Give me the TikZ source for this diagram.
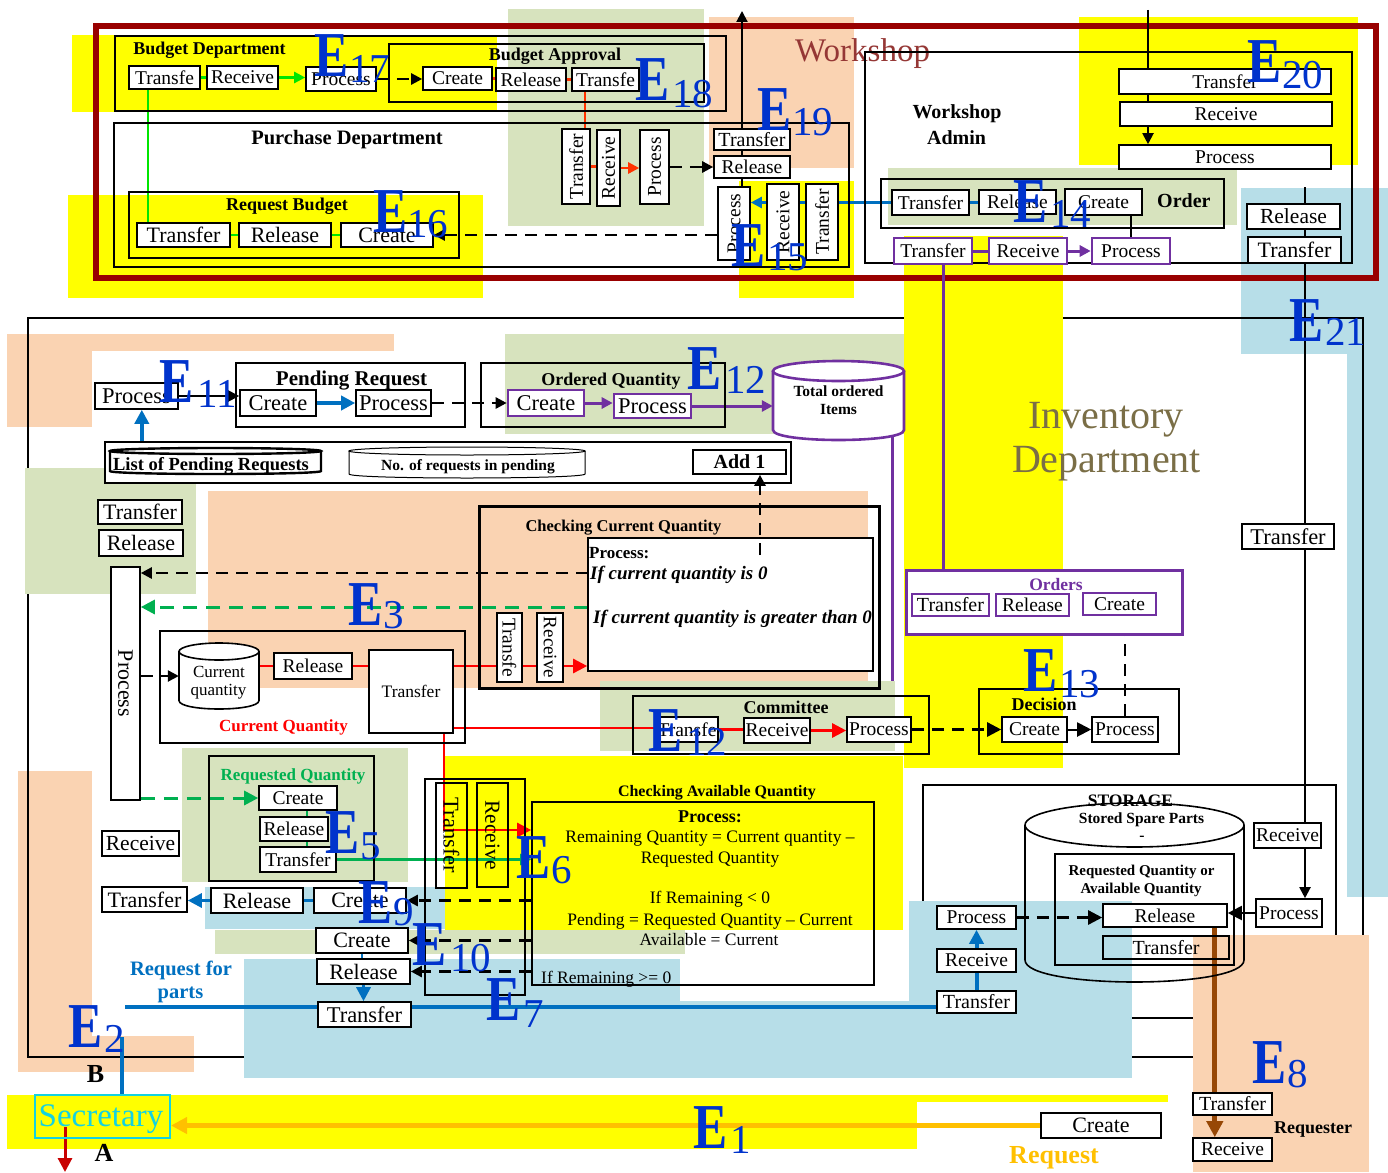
\documentclass[tikz,border=0pt]{standalone}
\usepackage{graphicx}
\usepackage{fontspec}
\setmainfont{Liberation Serif}
\usetikzlibrary{arrows.meta,calc}
\newcommand\fsz[1]{\fontsize{#1}{#1}\selectfont}
\definecolor{yel}{HTML}{FFFF00}
\definecolor{grn}{HTML}{D7E3BE}
\definecolor{pch}{HTML}{FAD3B2}
\definecolor{blu}{HTML}{B7DEE8}
\definecolor{frameRed}{HTML}{990000}
\definecolor{wsred}{HTML}{953735}
\definecolor{eblue}{HTML}{0033CC}
\definecolor{bblue}{HTML}{0070C0}
\definecolor{egreen}{HTML}{00B050}
\definecolor{bgreen}{HTML}{00E600}
\definecolor{ored}{HTML}{FF3300}
\definecolor{purp}{HTML}{7030A0}
\definecolor{lblue}{HTML}{6FA8DC}
\definecolor{orng}{HTML}{FFC000}
\definecolor{brwn}{HTML}{974806}
\definecolor{cyanS}{HTML}{14D2E1}
\definecolor{invOlive}{HTML}{7A6E46}
\definecolor{darkRed}{HTML}{C80000}
\pgfdeclarelayer{back}
\pgfdeclarelayer{base}
\pgfdeclarelayer{patch}
\pgfdeclarelayer{edge}
\pgfsetlayers{back,base,patch,edge,main}
% box by its corners: [options]{name}{x1}{y1}{x2}{y2}{text}
\newcommand\bxn[7][]{\node[inner sep=0pt,#1,minimum width={#5-#3},minimum height={#6-#4}] (#2) at ({(#3+#5)/2},{(#4+#6)/2}) {#7};}
% text placed on its baseline
\newcommand\lbl[4][]{\node[inner sep=0pt,anchor=base,#1] (#2) at (#3) {#4};}
% big E with its number
\newcommand\elab[6]{%
  \node[inner sep=0pt,anchor=base west,text=eblue,font=\bfseries\fsz{64}] (#1) at (#2,#3) {\scalebox{0.8}[1]{E}};
  \node[inner sep=0pt,anchor=base west,text=eblue,font=\fsz{41}] (#1n) at (#4,#5) {#6};}
% upright cylinder: {style}{x1}{y1}{x2}{y2}{ry}
\newcommand\cylsh[6]{%
  \pgfmathsetmacro\cylrx{(#4-#2)/2}%
  \pgfmathsetmacro\cylcx{(#2+#4)/2}%
  \draw[#1] (#2,{#3+#6}) -- (#2,{#5-#6}) .. controls (#2,{#5+0.333*#6}) and (#4,{#5+0.333*#6}) .. (#4,{#5-#6}) -- (#4,{#3+#6});
  \draw[#1] (\cylcx,{#3+#6}) ellipse [x radius=\cylrx pt, y radius=#6 pt];}
\begin{document}
\begin{tikzpicture}[x=1pt,y=-1pt,
  bx/.style={draw=black,line width=1.6pt,fill=white,font=\fsz{19.5}},
  pbx/.style={bx,draw=purp,line width=2.6pt},
  ctr/.style={draw=black,line width=1.6pt},
  arr/.style={-{Triangle[length=#1,width=#1]}},
  arr/.default=11pt,
  kline/.style={draw=black,line width=2pt},
  kdash/.style={draw=black,line width=2.5pt,dash pattern=on 12pt off 8pt},
  gline/.style={draw=bgreen,line width=2.5pt},
  oline/.style={draw=ored,line width=2.5pt},
  bline/.style={draw=bblue,line width=2.5pt},
  bthick/.style={draw=bblue,line width=4pt},
  pline/.style={draw=purp,line width=3pt},
  rline/.style={draw=red,line width=2.5pt},
  gdash/.style={draw=egreen,line width=3pt,dash pattern=on 14pt off 9pt},
  gthin/.style={draw=egreen,line width=1.5pt},
  gsolid/.style={draw=egreen,line width=2.5pt},
  lbline/.style={draw=lblue,line width=3pt},
  rdark/.style={draw=darkRed,line width=3pt},
  oline2/.style={draw=orng,line width=5pt},
  brline/.style={draw=brwn,line width=5pt}]
\useasboundingbox (0,0) rectangle (1388,1172);

\begin{pgfonlayer}{back}
  \fill[white] (0,0) rectangle (1388,1172);
  \fill[pch] (7,334) rectangle (394,351);
  \fill[pch] (7,334) rectangle (92,427);
  \fill[pch] (18,771) rectangle (92,1072);
  \fill[pch] (18,1036) rectangle (194,1072);
  \fill[blu] (1241,188) rectangle (1388,354);
  \fill[blu] (1347,188) rectangle (1388,897);
\end{pgfonlayer}

\begin{pgfonlayer}{base}
  \bxn[ctr]{inv}{28}{318}{1363}{1057}{}
  \bxn[ctr]{stor}{923}{785}{1336}{1018}{}
\end{pgfonlayer}

\begin{pgfonlayer}{patch}
  \fill[yel] (72,35) rectangle (497,112);
  \fill[yel] (68,195) rectangle (483,298);
  \fill[grn] (508,9) rectangle (704,226);
  \fill[pch] (709,17) rectangle (854,168);
  \fill[yel] (739,181) rectangle (854,298);
  \fill[yel] (1079,17) rectangle (1358,165);
  \fill[grn] (888,168) rectangle (1237,225);
  \fill[yel] (904,236) rectangle (1063,768);
  \fill[grn] (25,468) rectangle (196,594);
  \fill[grn] (505,334) rectangle (904,434);
  \fill[pch] (208,491) rectangle (868,688);
  \fill[grn] (600,681) rectangle (895,751);
  \fill[yel] (445,756) rectangle (903,930);
  \fill[grn] (182,748) rectangle (408,882);
  \fill[blu] (205,887) rectangle (445,929);
  \fill[grn] (215,930) rectangle (685,954);
  \fill[blu] (244,959) rectangle (680,1078);
  \fill[blu] (680,1001) rectangle (909,1078);
  \fill[blu] (909,901) rectangle (1132,1078);
  \fill[pch] (1193,935) rectangle (1369,1172);
  \fill[yel] (7,1095) rectangle (917,1149);
  \fill[yel] (7,1095) rectangle (1168,1102);
  \bxn[draw=frameRed,line width=6pt]{wsframe}{95.5}{26}{1376}{278}{}
\end{pgfonlayer}

% ---------- Budget and purchase departments ----------
\bxn[ctr]{bdep}{115}{36}{726}{111}{}
\lbl[font=\bfseries\fsz{18}]{bdepL}{209.5,55}{Budget Department}
\bxn[bx]{bdT}{129}{66}{200}{89}{Transfe}
\bxn[bx]{bdR}{207}{66}{278}{89}{Receive}
\bxn[bx]{bdP}{306}{67}{376}{91}{Process}
\bxn[ctr]{bap}{389}{44}{704}{102}{}
\lbl[font=\bfseries\fsz{18}]{bapL}{555,60}{Budget Approval}
\bxn[bx]{baC}{423}{67}{492}{90}{Create}
\bxn[bx]{baR}{496}{68}{566}{91}{Release}
\bxn[bx]{baT}{572}{68}{639}{91}{Transfe}
\bxn[ctr]{pur}{114}{123}{849}{267}{}
\lbl[font=\bfseries\fsz{20.5}]{purL}{347,144}{Purchase Department}
\bxn[ctr]{rqb}{129}{192}{459}{258}{}
\lbl[font=\bfseries\fsz{18}]{rqbL}{287,210}{Request Budget}
\bxn[bx,font=\fsz{22}]{rbT}{137}{223}{230}{247}{Transfer}
\bxn[bx,font=\fsz{22}]{rbR}{239}{223}{331}{247}{Release}
\bxn[bx,font=\fsz{22}]{rbC}{341}{223}{433}{247}{Create}
\bxn[bx]{vT}{562}{129}{590}{204}{\rotatebox{90}{Transfer}}
\bxn[bx]{vR}{597}{130}{620}{206}{\rotatebox{90}{Receive}}
\bxn[bx]{vP}{640}{130}{669}{204}{\rotatebox{90}{Process}}

% ---------- Workshop ----------
\lbl[anchor=base west,text=wsred,font=\fsz{33}]{wsL}{795,62}{Workshop}
\bxn[bx,font=\fsz{20}]{wT}{714}{129}{790}{150}{Transfer}
\bxn[bx]{wR}{714}{156}{790}{178}{Release}
\bxn[bx]{wvP}{718}{187}{750}{260}{\rotatebox{90}{Process}}
\bxn[bx]{wvR}{767}{184}{799}{260}{\rotatebox{90}{Receive}}
\bxn[bx]{wvT}{806}{184}{838}{260}{\rotatebox{90}{Transfer}}
\bxn[ctr]{wadm}{865}{52}{1352}{263}{}
\lbl[font=\bfseries\fsz{20}]{wadmL1}{957,118}{Workshop}
\lbl[font=\bfseries\fsz{20}]{wadmL2}{956.5,144}{Admin}
\bxn[ctr]{ord}{881}{179}{1224}{228}{}
\bxn[bx]{oT}{892}{190}{969}{215}{Transfer}
\bxn[bx]{oR}{979}{190}{1056}{214}{Release}
\bxn[bx]{oC}{1065}{189}{1142}{215}{Create}
\lbl[anchor=base west,font=\bfseries\fsz{20}]{ordL}{1157,207}{Order}
\bxn[pbx]{pT}{894}{238}{972}{264}{Transfer}
\bxn[pbx]{pR}{989}{238}{1067}{264}{Receive}
\bxn[pbx]{pP}{1092}{238}{1170}{264}{Process}
\bxn[bx]{trT}{1119}{69}{1331}{94}{Transfer}
\bxn[bx]{trR}{1120}{102}{1332}{126}{Receive}
\bxn[bx]{trP}{1119}{145}{1331}{169}{Process}
\bxn[bx,font=\fsz{21.5}]{rR}{1247}{204}{1340}{229}{Release}
\bxn[bx,font=\fsz{22}]{rT}{1248}{237}{1341}{263}{Transfer}

% ---------- Inventory department ----------
\lbl[text=invOlive,font=\fsz{40}]{invL1}{1106,428}{Inventory}
\lbl[text=invOlive,font=\fsz{40}]{invL2}{1106.5,472}{Department}
\bxn[bx,font=\fsz{22.5}]{peP}{95}{383}{178}{409}{Process}
\bxn[ctr]{pend}{236}{363}{465}{427}{}
\lbl[font=\bfseries\fsz{21}]{pendL}{351.5,385}{Pending Request}
\bxn[bx,font=\fsz{22.5}]{prC}{240}{390}{316}{416}{Create}
\bxn[bx,font=\fsz{22.5}]{prP}{356}{390}{431}{416}{Process}
\bxn[ctr]{oq}{481}{363}{725}{427}{}
\lbl[font=\bfseries\fsz{18}]{oqL}{611,385}{Ordered Quantity}
\bxn[pbx,font=\fsz{22.5}]{oqC}{508}{390}{584}{416}{Create}
\bxn[pbx,font=\fsz{22.5}]{oqP}{614}{394}{691}{418}{Process}
\cylsh{draw=purp,line width=2.6pt,fill=white}{773}{361}{904}{440}{10}
\bxn[font=\bfseries\fontsize{15.5}{18}\selectfont,align=center]{tot}{773}{361}{904}{440}{Total ordered\\Items}
\bxn[ctr,fill=white]{lcont}{105}{442}{791}{483}{}
\cylsh{draw,line width=2.4pt,fill=white}{110}{448}{321}{474}{3}
\bxn{lst}{110}{448}{321}{474}{}
\lbl[font=\bfseries\fsz{18.5}]{lstL}{211,470}{List of Pending Requests}
\cylsh{draw,line width=1pt,fill=white}{349}{447}{585}{478}{4}
\bxn{nor}{349}{447}{585}{478}{}
\lbl[font=\bfseries\fsz{15.5}]{norL}{468,470}{No. of requests in pending}
\bxn[bx,font=\bfseries\fsz{20}]{add}{693}{450}{786}{474}{Add 1}
\bxn[bx,font=\fsz{22}]{lT}{98}{500}{182}{524}{Transfer}
\bxn[bx,font=\fsz{22}]{lR}{99}{530}{183}{556}{Release}
\bxn[bx,font=\fsz{22}]{lvP}{111}{567}{140}{800}{\rotatebox{-90}{Process}}

\bxn[ctr,line width=3pt]{ccq}{479}{506}{879}{688}{}
\lbl[font=\bfseries\fsz{16.5}]{ccqL}{623.5,531}{Checking Current Quantity}
\bxn[bx]{ccIn}{588}{538}{873}{671}{}
\lbl[anchor=base west,font=\bfseries\fsz{17}]{ccP}{589,558}{Process:}
\lbl[anchor=base west,font=\bfseries\itshape\fsz{19}]{ccI1}{590,579}{If current quantity is 0}
\lbl[anchor=base west,font=\bfseries\itshape\fsz{19}]{ccI2}{593,623}{If current quantity is greater than 0}
\bxn[bx]{ccT}{497}{613}{522}{682}{\rotatebox{-90}{Transfe}}
\bxn[bx,font=\fsz{19}]{ccR}{537}{613}{563}{682}{\rotatebox{-90}{Receive}}
\coordinate (chkA) at (760,555);
\draw[kdash,arr] (chkA) -- (chkA |- add.south);

\bxn[ctr]{cq}{160}{631}{465}{743}{}
\cylsh{draw,line width=1.6pt,fill=white}{179}{643}{259}{709}{8.5}
\bxn{cur}{179}{643}{259}{709}{}
\lbl[font=\fsz{17}]{curL1}{219,677}{Current}
\lbl[font=\fsz{17}]{curL2}{218.5,695}{quantity}
\bxn[bx]{cqR}{274}{653}{352}{679}{Release}
\bxn[bx,font=\fsz{17.5}]{cqT}{369}{650}{453}{733}{Transfer}
\lbl[text=red,font=\bfseries\fsz{17}]{cqL}{283.5,731}{Current Quantity}

\bxn[ctr]{cmt}{633}{696}{929}{754}{}
\lbl[font=\bfseries\fsz{18}]{cmtL}{786,713}{Committee}
\bxn[bx]{cmT}{656}{717}{718}{742}{Transfe}
\bxn[bx]{cmR}{744}{718}{810}{743}{Receive}
\bxn[bx]{cmP}{847}{717}{911}{742}{Process}
\bxn[ctr]{dec}{979}{689}{1179}{754}{}
\lbl[font=\bfseries\fsz{18}]{decL}{1044,710}{Decision}
\bxn[bx]{dC}{1002}{717}{1067}{742}{Create}
\bxn[bx]{dP}{1092}{717}{1158}{742}{Process}
\bxn[bx,draw=purp,line width=3pt]{ords}{906}{570}{1182}{634}{}
\lbl[text=purp,font=\bfseries\fsz{17.5}]{ordsL}{1056,590}{Orders}
\bxn[pbx,font=\fsz{20}]{orT}{912}{594}{989}{616}{Transfer}
\bxn[pbx]{orR}{996}{594}{1069}{616}{Release}
\bxn[pbx]{orC}{1083}{593}{1156}{615}{Create}
\bxn[bx,font=\fsz{22.5}]{invT}{1242}{524}{1334}{549}{Transfer}

\bxn[ctr]{rq}{209}{756}{374}{881}{}
\lbl[text=egreen,font=\bfseries\fsz{17}]{rqL}{293,780}{Requested Quantity}
\bxn[bx]{rqC}{259}{786}{337}{810}{Create}
\bxn[bx]{rqR}{260}{817}{328}{841}{Release}
\bxn[bx]{rqT}{260}{847}{336}{872}{Transfer}
\bxn[bx,font=\fsz{21.5}]{recv}{102}{831}{179}{856}{Receive}

\bxn[ctr]{caq}{425}{779}{525}{995}{}
\bxn[ctr,font=\fsz{22.5}]{caT}{436}{783}{467}{888}{\rotatebox{-90}{Transfer}}
\bxn[ctr,font=\fsz{21.5}]{caR}{477}{783}{508}{887}{\rotatebox{-90}{Receive}}
\lbl[font=\bfseries\fsz{16}]{caqL}{717,796}{Checking Available Quantity}
\bxn[ctr]{caP}{532}{802}{874}{985}{}
\lbl[font=\bfseries\fsz{18}]{caP0}{710,822}{Process:}
\lbl[font=\fsz{17.5}]{caP1}{710,842}{Remaining Quantity = Current quantity –}
\lbl[font=\fsz{17.5}]{caP2}{710,863}{Requested Quantity}
\lbl[font=\fsz{17.5}]{caP3}{710,903}{If Remaining < 0}
\lbl[font=\fsz{17.5}]{caP4}{710,925}{Pending = Requested Quantity – Current}
\lbl[font=\fsz{17.5}]{caP5}{709,945}{Available = Current}
\lbl[anchor=base west,font=\fsz{17.5}]{caP6}{541,983}{If Remaining >= 0}

\bxn[bx,font=\fsz{22}]{e9T}{102}{887}{187}{912}{Transfer}
\bxn[bx,font=\fsz{22}]{e9R}{211}{888}{303}{913}{Release}
\bxn[bx,font=\fsz{22}]{e9C}{314}{888}{406}{913}{Create}
\bxn[bx,font=\fsz{22}]{e10C}{316}{928}{408}{953}{Create}
\bxn[bx,font=\fsz{22}]{e10R}{317}{959}{410}{984}{Release}
\bxn[bx,font=\fsz{22.5}]{e7T}{318}{1002}{411}{1027}{Transfer}
\lbl[text=bblue,font=\bfseries\fsz{20.5}]{rfpL1}{181,975}{Request for}
\lbl[text=bblue,font=\bfseries\fsz{20.5}]{rfpL2}{180.5,998}{parts}
\bxn[draw=cyanS,line width=2pt]{sec}{35}{1095}{170}{1138}{}
\lbl[text=cyanS,font=\fsz{33}]{secL}{101,1126}{Secretary}
\lbl[font=\bfseries\fsz{26}]{bL}{95.5,1082}{B}
\lbl[font=\bfseries\fsz{26}]{aL}{104,1161}{A}

% ---------- Storage and requester ----------
\lbl[font=\bfseries\fsz{17.5}]{storL}{1130.5,806}{STORAGE}
\cylsh{draw,line width=1.6pt}{1025}{803}{1244}{982}{22}
\bxn{scyl}{1025}{803}{1244}{982}{}
\lbl[font=\bfseries\fsz{15.5}]{scylL}{1141.5,823}{Stored Spare Parts}
\lbl[font=\bfseries\fsz{15.5}]{scylD}{1142,840}{-}
\bxn[ctr]{sIn}{1055}{854}{1234}{965}{}
\lbl[font=\bfseries\fsz{15}]{sInL1}{1141.5,875}{Requested Quantity or}
\lbl[font=\bfseries\fsz{15}]{sInL2}{1141,893}{Available Quantity}
\bxn[bx]{sRel}{1103}{904}{1227}{927}{Release}
\bxn[ctr,font=\fsz{20}]{sTr}{1103}{936}{1229}{959}{Transfer}
\bxn[bx]{stP}{937}{906}{1016}{929}{Process}
\bxn[bx]{stR}{937}{949}{1016}{972}{Receive}
\bxn[bx,font=\fsz{20}]{stT}{937}{991}{1016}{1013}{Transfer}
\bxn[bx]{sRcv}{1254}{823}{1321}{848}{Receive}
\bxn[bx]{sPrc}{1256}{899}{1322}{927}{Process}
\bxn[bx,font=\fsz{20}]{reqT}{1193}{1093}{1272}{1115}{Transfer}
\bxn[bx]{reqR}{1193}{1138}{1272}{1161}{Receive}
\lbl[anchor=base west,font=\bfseries\fsz{18}]{reqL}{1274,1133}{Requester}
\bxn[bx,font=\fsz{22}]{crt}{1041}{1113}{1161}{1138}{Create}
\lbl[text=orng,font=\bfseries\fsz{26}]{reqst}{1054,1163}{Request}

% ---------- connectors ----------
\begin{pgfonlayer}{edge}
  \draw[gline] (bdT.east) -- (bdR.west);
  \draw[gline,arr] (bdR.east) -- (bdR.east -| bdP.west);
  \draw[gline] ($(bdT.south west)+(20,0)$) -- ($(bdT.south west |- rbT.north)+(20,0)$);
  \draw[gline] (rbT.east) -- (rbR.west);
  \draw[gline] (rbR.east) -- (rbC.west);
  \draw[kdash,arr] (bdP.east) -- (bdP.east -| baC.west);
  \draw[oline] (baC.east) -- (baC.east -| baR.west);
  \draw[oline] (baR.east) -- (baT.west);
  \draw[oline] ($(baT.south west)+(14,0)$) -- ($(baT.south west |- vT.north)+(14,0)$);
  \draw[oline] (vT.east) -- (vT.east -| vR.west);
  \draw[oline,arr] (vR.east) -- (vR.east -| vP.west);
  \draw[kdash,arr] (vP.east) -- (vP.east -| wR.west);
  \coordinate (wsOut) at (742,11);
  \draw[kline,arr] (wsOut |- wvP.north) -- (wsOut);
  \draw[kdash,arr] (wvP.west |- rbC.east) -- (rbC.east);
  \draw[bline] (oT.west) -- (oT.west -| wvT.east);
  \draw[bline] (wvT.west |- oT.west) -- (wvR.east |- oT.west);
  \draw[bline,arr] (wvR.west |- oT.west) -- (wvP.east |- oT.west);
  \draw[bline] (oT.east) -- (oT.east -| oR.west);
  \draw[kline,arr] (pP.north) -- ($(pP.north |- oC.south)+(0,-15)$);
  \draw[pline] (pT.east) -- (pR.west);
  \draw[pline,arr] (pR.east) -- (pP.west);
  \draw[pline] ($(pT.south)+(10,0)$) -- ($(pT.south |- ords.north)+(10,0)$);
  \coordinate (trIn) at (1148,10);
  \draw[kline,arr] (trIn) -- (trIn |- trP.north);
  \coordinate (rTop) at (1305,187);
  \draw[kline,arr] (rTop) -- (rTop |- sPrc.north);

  \draw[kline,arr] (peP.east) -- (peP.east -| prC.west);
  \draw[bthick,arr=14pt] (prC.east) -- (prP.west);
  \draw[kdash,arr] (prP.east) -- (prP.east -| oqC.west);
  \draw[pline,arr] (oqC.east) -- (oqC.east -| oqP.west);
  \draw[pline,arr] (oqP.east) -- (oqP.east -| tot.west);
  \coordinate (pDown) at (892,681);
  \draw[pline] ($(pDown |- tot.south)+(0,-4)$) -- (pDown);
  \draw[bthick,arr=14pt] ($(lst.north west)+(32,0)$) -- ($(lst.north west |- peP.south)+(32,0)$);
  \draw[bline,line width=3pt,arr=14pt] ($(nor.east)+(0,-6)$) -- ($(nor.east -| add.west)+(0,-6)$);
  \draw[bline,line width=3pt,arr=14pt] ($(add.west)+(0,5)$) -- ($(add.west -| nor.east)+(0,5)$);
  \coordinate (yA) at (588,573);
  \draw[kdash,arr] (yA) -- (yA -| lvP.east);
  \coordinate (yB) at (588,607);
  \draw[gdash,arr=14pt] (yB) -- (yB -| lvP.east);
  \draw[kdash,arr] (lvP.east |- cur.west) -- (cur.west);
  \draw[rline] (cur.east |- cqR.west) -- (cqR.west);
  \draw[rline] (cqR.east) -- (cqR.east -| cqT.west);
  \draw[rline,arr=14pt] (cqR.east -| cqT.east) -- (cqR.east -| ccIn.west);
  \coordinate (rj) at (444,728);
  \coordinate (rk) at (444,830);
  \draw[rline] (rj) -- (rj -| cmT.west);
  \draw[rline,arr=14pt] (rj) -- (rk) -- (rk -| caP.west);
  \draw[rline] (cmT.east) -- (cmT.east -| cmR.west);
  \draw[rline,arr=14pt] (cmR.east) -- (cmR.east -| cmP.west);
  \draw[kdash,arr=14pt] (cmP.east) -- (cmP.east -| dC.west);
  \draw[kline,arr=14pt] (dC.east) -- (dC.east -| dP.west);
  \draw[kdash,arr=14pt] (dP.north) -- (dP.north |- orC.south);
  \draw[lbline] (orT.east) -- (orT.east -| orR.west);
  \draw[lbline] (orR.east) -- (orR.east -| orC.west);
  \draw[gdash,arr=14pt] (lvP.east |- rqC.west) -- (rqC.west);
  \draw[gthin] ($(rqC.south)+(9,0)$) -- ($(rqC.south |- rqR.north)+(9,0)$);
  \draw[gthin] ($(rqC.south |- rqR.south)+(9,0)$) -- ($(rqC.south |- rqT.north)+(9,0)$);
  \draw[gsolid,arr] (rqT.east) -- (rqT.east -| caP.west);
  \draw[kdash,arr] (e9C.east -| caP.west) -- (e9C.east);
  \draw[kdash,arr] (e10C.east -| caP.west) -- (e10C.east);
  \draw[kdash,arr] (e10R.east -| caP.west) -- (e10R.east);
  \draw[bline] (e9C.west) -- (e9C.west -| e9R.east);
  \draw[bline,line width=3pt,arr=14pt] (e9R.west) -- (e9R.west -| e9T.east);
  \draw[bline] (e10C.south) -- (e10C.south |- e10R.north);
  \draw[bline,line width=3pt,arr=14pt] (e10R.south) -- (e10R.south |- e7T.north);
  \coordinate (rfp) at (125,1007);
  \draw[bthick] (rfp) -- (rfp -| stT.west);
  \coordinate (secUp) at (122,1037);
  \draw[bthick] (secUp) -- (secUp |- sec.north);
  \coordinate (secDn) at (65,1172);
  \draw[rdark,arr=14pt] ($(sec.south -| secDn)+(0,-12)$) -- (secDn);
  \draw[oline2,arr=16pt] (crt.west) -- (crt.west -| sec.east);
  \draw[bthick] (stT.north) -- (stR.south);
  \draw[bthick,arr=14pt] (stR.north) -- (stP.south);
  \draw[kdash,arr=14pt] (stP.east) -- (stP.east -| sRel.west);
  \draw[kline,arr=14pt] (sPrc.west) -- (sPrc.west -| sRel.east);
  \draw[brline,arr=16pt] ($(sRel.south east)+(-13,0)$) -- ($(sRel.south east |- reqR.north)+(-13,0)$);
\end{pgfonlayer}

% ---------- event labels ----------
\elab{e17}{314}{76}{349}{82}{17}
\elab{e18}{635}{100}{672}{107}{18}
\elab{e19}{757}{130}{792}{135}{19}
\elab{e20}{1247}{82}{1282}{88}{20}
\elab{e16}{373}{232}{407}{237}{16}
\elab{e14}{1013}{222}{1050}{227}{14}
\elab{e15}{731}{266}{767}{270}{15}
\elab{e21}{1289}{341}{1325}{345}{21}
\elab{e11}{159}{402}{197}{407}{11}
\elab{e12a}{687}{389}{725}{393}{12}
\elab{e3}{348}{625}{383}{628}{3}
\elab{e13}{1023}{691}{1059}{697}{13}
\elab{e12b}{648}{751}{686}{755}{12}
\elab{e5}{325}{853}{360}{859}{5}
\elab{e6}{516}{878}{551}{883}{6}
\elab{e9}{358}{923}{393}{925}{9}
\elab{e10}{412}{965}{450}{971}{10}
\elab{e7}{486}{1020}{523}{1027}{7}
\elab{e2}{68}{1047}{104}{1052}{2}
\elab{e1}{693}{1148}{730}{1153}{1}
\elab{e8}{1252}{1083}{1287}{1087}{8}
\end{tikzpicture}
\end{document}
